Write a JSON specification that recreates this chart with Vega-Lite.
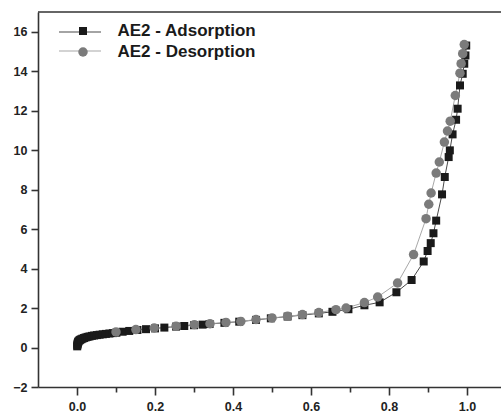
{
  "$schema": "https://vega.github.io/schema/vega-lite/v6.json",
  "autosize": "none",
  "padding": {"left": 38, "top": 12, "right": 0, "bottom": 25},
  "width": 463,
  "height": 375,
  "background": "white",
  "config": {
    "view": {"stroke": null},
    "font": "Liberation Sans"
  },
  "data": {
    "values": [
      {"series": "AE2 - Adsorption", "pressure": 0.0005, "volume": 0.06},
      {"series": "AE2 - Adsorption", "pressure": 0.001, "volume": 0.12},
      {"series": "AE2 - Adsorption", "pressure": 0.0015, "volume": 0.18},
      {"series": "AE2 - Adsorption", "pressure": 0.002, "volume": 0.23},
      {"series": "AE2 - Adsorption", "pressure": 0.003, "volume": 0.28},
      {"series": "AE2 - Adsorption", "pressure": 0.004, "volume": 0.32},
      {"series": "AE2 - Adsorption", "pressure": 0.006, "volume": 0.36},
      {"series": "AE2 - Adsorption", "pressure": 0.008, "volume": 0.39},
      {"series": "AE2 - Adsorption", "pressure": 0.011, "volume": 0.42},
      {"series": "AE2 - Adsorption", "pressure": 0.014, "volume": 0.45},
      {"series": "AE2 - Adsorption", "pressure": 0.018, "volume": 0.48},
      {"series": "AE2 - Adsorption", "pressure": 0.022, "volume": 0.51},
      {"series": "AE2 - Adsorption", "pressure": 0.027, "volume": 0.54},
      {"series": "AE2 - Adsorption", "pressure": 0.032, "volume": 0.56},
      {"series": "AE2 - Adsorption", "pressure": 0.038, "volume": 0.59},
      {"series": "AE2 - Adsorption", "pressure": 0.044, "volume": 0.61},
      {"series": "AE2 - Adsorption", "pressure": 0.051, "volume": 0.63},
      {"series": "AE2 - Adsorption", "pressure": 0.058, "volume": 0.65},
      {"series": "AE2 - Adsorption", "pressure": 0.066, "volume": 0.67},
      {"series": "AE2 - Adsorption", "pressure": 0.074, "volume": 0.69},
      {"series": "AE2 - Adsorption", "pressure": 0.083, "volume": 0.71},
      {"series": "AE2 - Adsorption", "pressure": 0.092, "volume": 0.73},
      {"series": "AE2 - Adsorption", "pressure": 0.101, "volume": 0.75},
      {"series": "AE2 - Adsorption", "pressure": 0.117, "volume": 0.8},
      {"series": "AE2 - Adsorption", "pressure": 0.134, "volume": 0.84},
      {"series": "AE2 - Adsorption", "pressure": 0.155, "volume": 0.89},
      {"series": "AE2 - Adsorption", "pressure": 0.177, "volume": 0.93},
      {"series": "AE2 - Adsorption", "pressure": 0.2, "volume": 0.97},
      {"series": "AE2 - Adsorption", "pressure": 0.224, "volume": 1.01},
      {"series": "AE2 - Adsorption", "pressure": 0.254, "volume": 1.06},
      {"series": "AE2 - Adsorption", "pressure": 0.275, "volume": 1.09},
      {"series": "AE2 - Adsorption", "pressure": 0.3, "volume": 1.13},
      {"series": "AE2 - Adsorption", "pressure": 0.322, "volume": 1.16},
      {"series": "AE2 - Adsorption", "pressure": 0.34, "volume": 1.19},
      {"series": "AE2 - Adsorption", "pressure": 0.378, "volume": 1.25},
      {"series": "AE2 - Adsorption", "pressure": 0.416, "volume": 1.31},
      {"series": "AE2 - Adsorption", "pressure": 0.459, "volume": 1.4},
      {"series": "AE2 - Adsorption", "pressure": 0.497, "volume": 1.48},
      {"series": "AE2 - Adsorption", "pressure": 0.54, "volume": 1.57},
      {"series": "AE2 - Adsorption", "pressure": 0.578, "volume": 1.64},
      {"series": "AE2 - Adsorption", "pressure": 0.62, "volume": 1.73},
      {"series": "AE2 - Adsorption", "pressure": 0.655, "volume": 1.81},
      {"series": "AE2 - Adsorption", "pressure": 0.696, "volume": 1.94},
      {"series": "AE2 - Adsorption", "pressure": 0.737, "volume": 2.14},
      {"series": "AE2 - Adsorption", "pressure": 0.776, "volume": 2.29},
      {"series": "AE2 - Adsorption", "pressure": 0.819, "volume": 2.8},
      {"series": "AE2 - Adsorption", "pressure": 0.858, "volume": 3.42},
      {"series": "AE2 - Adsorption", "pressure": 0.889, "volume": 4.36},
      {"series": "AE2 - Adsorption", "pressure": 0.899, "volume": 4.89},
      {"series": "AE2 - Adsorption", "pressure": 0.907, "volume": 5.29},
      {"series": "AE2 - Adsorption", "pressure": 0.914, "volume": 5.79},
      {"series": "AE2 - Adsorption", "pressure": 0.921, "volume": 6.43},
      {"series": "AE2 - Adsorption", "pressure": 0.936, "volume": 7.76},
      {"series": "AE2 - Adsorption", "pressure": 0.943, "volume": 8.64},
      {"series": "AE2 - Adsorption", "pressure": 0.953, "volume": 9.65},
      {"series": "AE2 - Adsorption", "pressure": 0.956, "volume": 9.99},
      {"series": "AE2 - Adsorption", "pressure": 0.963, "volume": 10.8},
      {"series": "AE2 - Adsorption", "pressure": 0.972, "volume": 11.54},
      {"series": "AE2 - Adsorption", "pressure": 0.976, "volume": 12.1},
      {"series": "AE2 - Adsorption", "pressure": 0.982, "volume": 13.28},
      {"series": "AE2 - Adsorption", "pressure": 0.989, "volume": 13.87},
      {"series": "AE2 - Adsorption", "pressure": 0.993, "volume": 14.38},
      {"series": "AE2 - Adsorption", "pressure": 0.996, "volume": 14.8},
      {"series": "AE2 - Adsorption", "pressure": 0.998, "volume": 15.3},
      {"series": "AE2 - Desorption", "pressure": 0.1, "volume": 0.79},
      {"series": "AE2 - Desorption", "pressure": 0.151, "volume": 0.91},
      {"series": "AE2 - Desorption", "pressure": 0.198, "volume": 0.99},
      {"series": "AE2 - Desorption", "pressure": 0.254, "volume": 1.08},
      {"series": "AE2 - Desorption", "pressure": 0.301, "volume": 1.16},
      {"series": "AE2 - Desorption", "pressure": 0.341, "volume": 1.21},
      {"series": "AE2 - Desorption", "pressure": 0.382, "volume": 1.27},
      {"series": "AE2 - Desorption", "pressure": 0.42, "volume": 1.32},
      {"series": "AE2 - Desorption", "pressure": 0.459, "volume": 1.42},
      {"series": "AE2 - Desorption", "pressure": 0.5, "volume": 1.5},
      {"series": "AE2 - Desorption", "pressure": 0.54, "volume": 1.58},
      {"series": "AE2 - Desorption", "pressure": 0.578, "volume": 1.67},
      {"series": "AE2 - Desorption", "pressure": 0.62, "volume": 1.77},
      {"series": "AE2 - Desorption", "pressure": 0.664, "volume": 1.92},
      {"series": "AE2 - Desorption", "pressure": 0.69, "volume": 2.0},
      {"series": "AE2 - Desorption", "pressure": 0.737, "volume": 2.28},
      {"series": "AE2 - Desorption", "pressure": 0.771, "volume": 2.56},
      {"series": "AE2 - Desorption", "pressure": 0.822, "volume": 3.27},
      {"series": "AE2 - Desorption", "pressure": 0.863, "volume": 4.71},
      {"series": "AE2 - Desorption", "pressure": 0.895, "volume": 6.53},
      {"series": "AE2 - Desorption", "pressure": 0.902, "volume": 7.26},
      {"series": "AE2 - Desorption", "pressure": 0.908, "volume": 7.83},
      {"series": "AE2 - Desorption", "pressure": 0.921, "volume": 8.84},
      {"series": "AE2 - Desorption", "pressure": 0.929, "volume": 9.4},
      {"series": "AE2 - Desorption", "pressure": 0.942, "volume": 10.41},
      {"series": "AE2 - Desorption", "pressure": 0.95, "volume": 10.97},
      {"series": "AE2 - Desorption", "pressure": 0.957, "volume": 11.47},
      {"series": "AE2 - Desorption", "pressure": 0.97, "volume": 12.77},
      {"series": "AE2 - Desorption", "pressure": 0.982, "volume": 13.9},
      {"series": "AE2 - Desorption", "pressure": 0.985, "volume": 14.38},
      {"series": "AE2 - Desorption", "pressure": 0.989, "volume": 14.89},
      {"series": "AE2 - Desorption", "pressure": 0.993, "volume": 15.35}
    ]
  },
  "layer": [
    {
      "mark": {"type": "line", "strokeWidth": 1},
      "encoding": {
        "x": {
          "field": "pressure", "type": "quantitative",
          "scale": {"domain": [-0.1, 1.0872], "nice": false, "zero": false},
          "axis": {
            "title": null, "grid": false,
            "values": [0, 0.1, 0.2, 0.3, 0.4, 0.5, 0.6, 0.7, 0.8, 0.9, 1.0],
            "labelExpr": "round(datum.value * 10) % 2 === 0 ? format(datum.value, '.1f') : ''",
            "tickSize": {"condition": {"test": "round(datum.value * 10) % 2 === 0", "value": 8}, "value": 5},
            "tickColor": "#333", "tickWidth": 1.6,
            "domainColor": "#333", "domainWidth": 1.6,
            "labelFont": "Liberation Sans", "labelFontSize": 12.5, "labelFontWeight": "bold",
            "labelColor": "#222", "labelPadding": 5, "labelFlush": false
          }
        },
        "y": {
          "field": "volume", "type": "quantitative",
          "scale": {"domain": [-2, 17], "nice": false, "zero": false},
          "axis": {
            "title": null, "grid": false,
            "values": [-2, -1, 0, 1, 2, 3, 4, 5, 6, 7, 8, 9, 10, 11, 12, 13, 14, 15, 16],
            "labelExpr": "datum.value % 2 === 0 ? datum.label : ''",
            "tickSize": {"condition": {"test": "datum.value % 2 === 0", "value": 7}, "value": 4},
            "tickColor": "#333", "tickWidth": 1.6,
            "domainColor": "#333", "domainWidth": 1.6,
            "labelFont": "Liberation Sans", "labelFontSize": 12.5, "labelFontWeight": "bold",
            "labelColor": "#222", "labelPadding": 4, "labelFlush": false
          }
        },
        "stroke": {
          "field": "series", "type": "nominal",
          "scale": {"range": ["#4a4a4a", "#a8a8a8"]},
          "legend": {
            "title": null, "orient": "none", "legendX": 36.5, "legendY": 14.5,
            "padding": 0, "symbolType": "M-4.667,0H4.667", "symbolSize": 81,
            "symbolStrokeWidth": 1.2, "labelExpr": "''", "labelFontSize": 1,
            "rowPadding": 11
          }
        }
      }
    },
    {
      "mark": {"type": "point", "filled": true, "opacity": 1},
      "encoding": {
        "x": {"field": "pressure", "type": "quantitative"},
        "y": {"field": "volume", "type": "quantitative"},
        "fill": {
          "field": "series", "type": "nominal",
          "scale": {"range": ["#1a1a1a", "#7b7b7b"]},
          "legend": {
            "title": null, "orient": "none", "legendX": 36.5, "legendY": 10.5,
            "padding": 0, "labelFont": "Liberation Sans", "labelFontSize": 17,
            "labelFontWeight": "bold", "labelColor": "#1a1a1a", "labelOffset": 26,
            "rowPadding": 3, "symbolStrokeWidth": 0
          }
        },
        "shape": {
          "field": "series", "type": "nominal",
          "scale": {"range": ["square", "circle"]}
        },
        "size": {
          "field": "series", "type": "nominal",
          "scale": {"range": [64, 90]}
        }
      }
    },
    {
      "data": {"values": [{}]},
      "mark": {"type": "rule", "color": "#333", "strokeWidth": 1.6},
      "encoding": {
        "y": {"datum": 17, "type": "quantitative"}
      }
    }
  ]
}
